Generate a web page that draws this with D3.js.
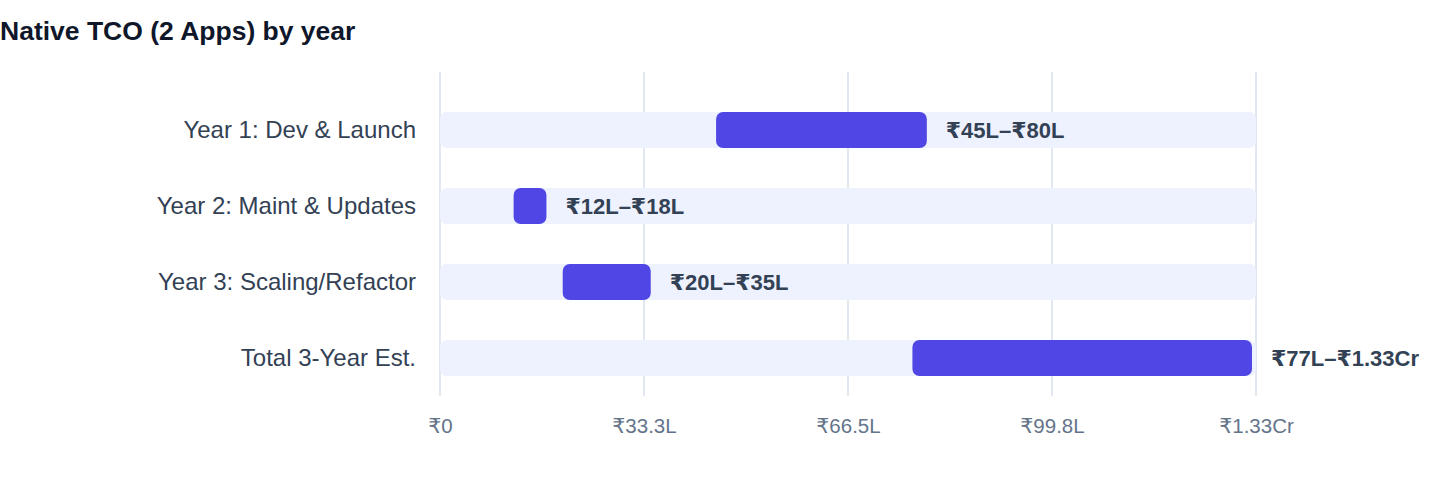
<!DOCTYPE html>
<html>
<head>
<meta charset="utf-8">
<script src="https://cdn.jsdelivr.net/npm/d3@7"></script>
<style>
  html, body { margin: 0; padding: 0; background: #ffffff; }
  body { width: 1440px; height: 484px; overflow: hidden; }
  text { font-family: "Liberation Sans", Arial, "DejaVu Sans", sans-serif; }
</style>
</head>
<body>
<svg id="chart" width="1440" height="484"></svg>
<script>
const title = "Native TCO (2 Apps) by year";
const categories = ["Year 1: Dev & Launch", "Year 2: Maint & Updates", "Year 3: Scaling/Refactor", "Total 3-Year Est."];
const lowValues = [45, 12, 20, 77];     // lakh ₹
const highValues = [80, 18, 35, 133];   // lakh ₹
const valueLabels = ["₹45L–₹80L", "₹12L–₹18L", "₹20L–₹35L", "₹77L–₹1.33Cr"];
const tickValues = [0, 33.25, 66.5, 99.75, 133];
const tickLabels = ["₹0", "₹33.3L", "₹66.5L", "₹99.8L", "₹1.33Cr"];
const axisMax = 133;

const FONT = "\"Liberation Sans\", Arial, \"DejaVu Sans\", sans-serif";
const svg = d3.select("#chart");

svg.append("text")
  .attr("x", 0).attr("y", 40)
  .attr("font-size", 26.5).attr("font-weight", 700)
  .attr("fill", "#0f172a")
  .text(title);

const x = d3.scaleLinear().domain([0, axisMax]).range([440, 1256]);
const y = d3.scaleBand().domain(categories).range([92, 396])
  .paddingInner(40 / 76).paddingOuter(20 / 76);

// gridlines
svg.append("g").selectAll("line").data(tickValues).join("line")
  .attr("x1", d => x(d)).attr("x2", d => x(d))
  .attr("y1", 72).attr("y2", 396)
  .attr("stroke", "#e2e8f0").attr("stroke-width", 2);

// axis tick labels
const axis = d3.axisBottom(x).tickValues(tickValues)
  .tickFormat((d, i) => tickLabels[i]).tickSize(0).tickPadding(0);
const gAxis = svg.append("g").attr("transform", "translate(0,418)").call(axis);
gAxis.select(".domain").remove();
gAxis.selectAll("text")
  .attr("font-size", 20.5).attr("fill", "#64748b")
  .attr("font-family", FONT)
  .attr("dy", "0.71em");

// category labels
const yAxis = d3.axisLeft(y).tickSize(0).tickPadding(24);
const gY = svg.append("g").attr("transform", "translate(440,0)").call(yAxis);
gY.select(".domain").remove();
gY.selectAll("text")
  .attr("font-size", 24).attr("fill", "#334155")
  .attr("font-family", FONT);

const rows = categories.map((c, i) => ({ c, lo: lowValues[i], hi: highValues[i], label: valueLabels[i] }));

// tracks
svg.append("g").selectAll("rect").data(rows).join("rect")
  .attr("x", x(0)).attr("y", d => y(d.c))
  .attr("width", x(axisMax) - x(0)).attr("height", y.bandwidth())
  .attr("rx", 7).attr("fill", "#eef2ff");

// range bars
svg.append("g").selectAll("rect").data(rows).join("rect")
  .attr("x", d => x(d.lo)).attr("y", d => y(d.c))
  .attr("width", d => x(d.hi) - x(d.lo) - 4).attr("height", y.bandwidth())
  .attr("rx", 7).attr("fill", "#4f46e5");

// value labels
svg.append("g").selectAll("text").data(rows).join("text")
  .attr("x", d => x(d.hi) + 15).attr("y", d => y(d.c) + y.bandwidth() / 2)
  .attr("dy", "0.35em")
  .attr("font-size", 22).attr("font-weight", 700).attr("fill", "#334155")
  .text(d => d.label);
</script>
</body>
</html>
